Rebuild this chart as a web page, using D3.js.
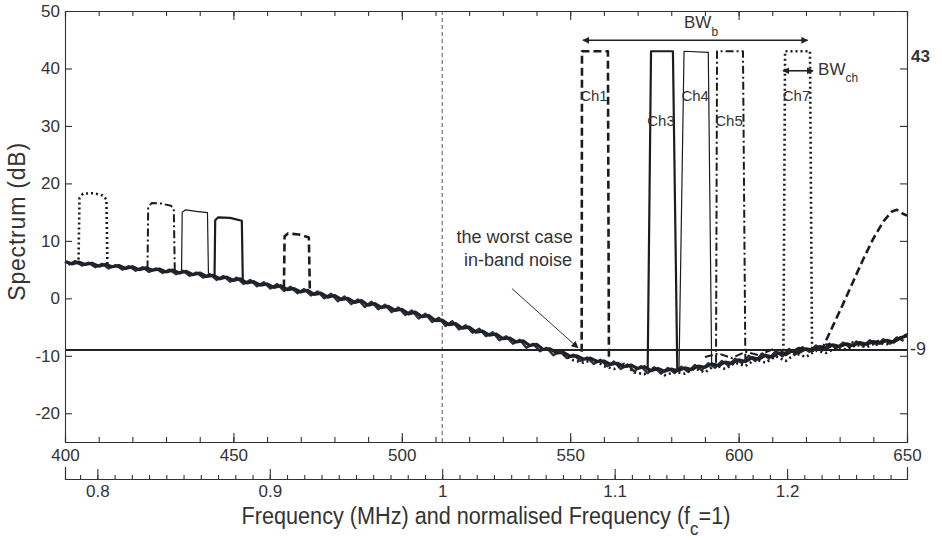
<!DOCTYPE html>
<html>
<head>
<meta charset="utf-8">
<script src="https://cdn.jsdelivr.net/npm/d3@7"></script>
<style>
  body { margin: 0; background: #fff; }
  svg { display: block; font-family: "Liberation Sans", Arial, sans-serif; }
  text { fill: #333; }
</style>
</head>
<body>
<svg id="chart" width="942" height="540"></svg>
<script>
// ---- data ----
const fc = 512;                       // centre frequency, MHz
const mhzTicks = [400, 450, 500, 550, 600, 650];
const normTicks = [0.8, 0.9, 1, 1.1, 1.2];
const dbTicks = [-20, -10, 0, 10, 20, 30, 40, 50];
const markedLevels = [43, -9];

// noise floor, trace 1 sampled at even MHz 400..650
const noiseFreq = d3.range(400, 651, 2);
const noiseDb = [
  6.4, 6.0, 6.3, 5.9, 6.1, 5.6, 5.9, 5.5, 5.7, 5.2,
  5.5, 5.0, 5.3, 4.9, 5.1, 4.6, 4.9, 4.4, 4.7, 4.1,
  4.4, 3.8, 4.0, 3.4, 3.7, 3.1, 3.4, 2.7, 2.9, 2.3,
  2.5, 1.9, 2.2, 1.5, 1.7, 1.1, 1.4, 0.7, 0.9, 0.2,
  0.5, -0.2, 0.0, -0.7, -0.4, -1.2, -0.9, -1.6, -1.4, -2.1,
  -1.9, -2.7, -2.4, -3.2, -3.0, -3.9, -3.8, -4.6, -4.4, -5.2,
  -5.0, -5.9, -5.7, -6.4, -6.2, -7.0, -6.9, -7.6, -7.4, -8.2,
  -8.0, -8.9, -8.8, -9.5, -9.4, -10.1, -10.0, -10.6, -10.4, -11.0,
  -10.9, -11.5, -11.3, -11.9, -11.6, -12.2, -11.9, -12.6, -12.2, -12.7,
  -12.3, -12.6, -12.1, -12.4, -11.8, -12.0, -11.4, -11.7, -11.1, -11.3,
  -10.7, -11.0, -10.3, -10.6, -9.9, -10.2, -9.5, -9.8, -9.1, -9.4,
  -8.8, -9.0, -8.4, -8.7, -8.1, -8.4, -7.9, -8.2, -7.7, -8.0,
  -7.5, -7.8, -7.3, -7.6, -6.9, -6.5
];
// noise floor, trace 2 sampled at odd MHz 401..649
const noiseFreq2 = d3.range(401, 650, 2);
const noiseDb2 = [
  5.8, 6.5, 5.7, 6.2, 5.4, 6.0, 5.2, 5.8, 5.0, 5.6,
  4.8, 5.4, 4.6, 5.2, 4.4, 5.0, 4.2, 4.8, 3.9, 4.5,
  3.6, 4.2, 3.2, 3.9, 2.9, 3.6, 2.5, 3.2, 2.1, 2.8,
  1.7, 2.5, 1.3, 2.0, 0.9, 1.6, 0.5, 1.2, 0.0, 0.8,
  -0.5, 0.3, -1.0, -0.2, -1.5, -0.6, -1.9, -1.1, -2.4, -1.6,
  -2.9, -2.1, -3.5, -2.7, -4.1, -3.4, -4.8, -4.0, -5.4, -4.7,
  -6.0, -5.3, -6.6, -5.9, -7.3, -6.6, -7.9, -7.2, -8.6, -7.9,
  -9.2, -8.6, -9.9, -9.2, -10.4, -9.8, -10.9, -10.3, -11.4, -10.7,
  -11.8, -11.0, -12.3, -11.5, -12.7, -11.8, -13.0, -12.0, -13.1, -12.1,
  -13.0, -11.9, -12.8, -11.6, -12.5, -11.3, -12.1, -10.9, -11.7, -10.5,
  -11.3, -10.0, -10.9, -9.6, -10.5, -9.2, -10.1, -8.8, -9.7, -8.5,
  -9.3, -8.2, -9.0, -7.9, -8.7, -7.7, -8.5, -7.5, -8.3, -7.3,
  -8.1, -7.1, -7.9, -6.8, -7.4
];

// lower scattered trace (dotted) over the band
const scatterLow = [
  [548, -9.8], [551, -10.8], [554, -11.2], [557, -10.6], [560, -11.8], [563, -12.3],
  [566, -11.4], [569, -12.9], [572, -13.2], [575, -12.0], [578, -13.4], [581, -12.8],
  [584, -13.1], [587, -12.2], [590, -12.9], [593, -11.6], [596, -12.3], [599, -11.2],
  [602, -11.8], [605, -10.6], [608, -11.2], [611, -10.1], [614, -10.9], [617, -9.6],
  [620, -10.2], [623, -9.1], [626, -9.5], [629, -8.6], [632, -8.9], [635, -8.1],
  [638, -8.5], [641, -7.7], [644, -8.0], [647, -7.0], [650, -6.4]
];
// upper scattered trace (dash-dot)
const scatterHigh = [
  [590, -10.2], [594, -9.6], [598, -10.4], [602, -9.3], [606, -9.9], [610, -8.9],
  [614, -9.5], [618, -8.6], [622, -9.2], [626, -8.0], [630, -8.4], [634, -7.6],
  [638, -8.1], [642, -7.3], [646, -7.7], [650, -6.2]
];

// in-band channels at 43 dB
const channelNames = ["Ch1", "Ch3", "Ch4", "Ch5", "Ch7"];
const channelTraces = [
  [[553.4, -9.3], [553.5, 43.0], [561.2, 43.0], [561.5, -10.8]],
  [[573.0, -12.5], [574.0, 43.0], [580.5, 43.0], [581.8, -12.6]],
  [[582.3, -12.5], [583.8, 43.0], [591.0, 42.8], [592.0, -11.5]],
  [[593.3, -11.2], [593.6, 43.0], [601.3, 43.0], [602.0, -10.5]],
  [[613.3, -10.0], [613.8, 43.0], [621.2, 43.0], [621.8, -9.0]]
];
const channelLabelDb = [35, 30.7, 35, 30.7, 35];

// intermodulation products below the band
const imTraces = [
  [[404.0, 5.9], [404.3, 17.4], [405.3, 18.2], [408.5, 18.3], [411.2, 17.9], [412.3, 17.2], [412.6, 5.6]],
  [[424.5, 5.2], [424.7, 15.9], [425.8, 16.6], [428.5, 16.5], [431.5, 16.1], [432.3, 15.6], [432.6, 4.7]],
  [[434.6, 4.6], [434.8, 15.0], [435.8, 15.4], [439.5, 15.1], [442.3, 14.9], [442.6, 3.9]],
  [[444.4, 3.8], [444.6, 13.6], [445.5, 14.1], [449.0, 14.0], [452.5, 13.5], [452.8, 2.8]],
  [[465.0, 1.9], [465.2, 10.8], [466.2, 11.3], [469.5, 11.1], [472.4, 10.6], [472.7, 1.3]]
];
// product above the band
const upperProduct = [
  [624.5, -9.2], [626, -7.3], [628, -4.8], [631, -1.0], [634, 2.9], [637, 6.8],
  [640, 10.4], [643, 13.4], [645.5, 15.1], [647, 15.4], [648.5, 14.8], [650, 14.4]
];

// ---- layout ----
const margin = { top: 11, left: 65, right: 35, bottom: 98 };
const width = 942 - margin.left - margin.right,
  height = 540 - margin.top - margin.bottom;

const svg = d3.select("#chart");
const g = svg.append("g").attr("transform", `translate(${margin.left},${margin.top})`);

const x = d3.scaleLinear().domain([400, 650]).range([0, width]);
const xn = d3.scaleLinear().domain([400 / fc, 650 / fc]).range([0, width]);
const y = d3.scaleLinear().domain([-25, 50]).range([height, 0]);

// line styles
const styles = {
  dashed: { w: 2.6, dash: "8,4" },
  thick: { w: 2.2, dash: null },
  thin: { w: 1.2, dash: null },
  dashdot: { w: 2, dash: "8,3,2,3" },
  dotted: { w: 2.6, dash: "2,3" }
};
const channelStyle = ["dashed", "thick", "thin", "dashdot", "dotted"];
const imStyle = ["dotted", "dashdot", "thin", "thick", "dashed"];

const line = d3.line().x(d => x(d[0])).y(d => y(d[1]));

function drawTrace(pts, st) {
  const s = styles[st];
  g.append("path")
    .datum(pts)
    .attr("d", line)
    .attr("fill", "none")
    .attr("stroke", "#1c1c1c")
    .attr("stroke-width", s.w)
    .attr("stroke-dasharray", s.dash)
    .attr("stroke-linejoin", "round");
}

// arrow marker
const defs = svg.append("defs");
defs.append("marker")
  .attr("id", "arr")
  .attr("viewBox", "0 0 10 10")
  .attr("refX", 9).attr("refY", 5)
  .attr("markerWidth", 7).attr("markerHeight", 7)
  .attr("orient", "auto-start-reverse")
  .attr("markerUnits", "userSpaceOnUse")
  .append("path")
  .attr("d", "M0,0L10,5L0,10z")
  .attr("fill", "#222");

// vertical line at fc
g.append("line")
  .attr("x1", x(fc)).attr("x2", x(fc))
  .attr("y1", 0).attr("y2", height)
  .attr("stroke", "#555").attr("stroke-width", 1)
  .attr("stroke-dasharray", "4,3");

// noise floor
const noise = noiseFreq.map((f, i) => [f, noiseDb[i]]);
const noise2 = noiseFreq2.map((f, i) => [f, noiseDb2[i]]);
g.append("path")
  .datum(noise2)
  .attr("d", line)
  .attr("fill", "none")
  .attr("stroke", "#2a3038")
  .attr("stroke-width", 2.4)
  .attr("stroke-linejoin", "round");
g.append("path")
  .datum(noise)
  .attr("d", line)
  .attr("fill", "none")
  .attr("stroke", "#1f2228")
  .attr("stroke-width", 3.2)
  .attr("stroke-linejoin", "round");
drawTrace(scatterLow, "dotted");
drawTrace(scatterHigh, "dashdot");

// channels
imTraces.forEach((t, i) => drawTrace(t, imStyle[i]));
channelTraces.forEach((t, i) => drawTrace(t, channelStyle[i]));
drawTrace(upperProduct, "dashed");

// -9 dB reference
g.append("line")
  .attr("x1", 0).attr("x2", width)
  .attr("y1", y(-9)).attr("y2", y(-9))
  .attr("stroke", "#222").attr("stroke-width", 2);

// ---- axes (Matlab style, inward ticks) ----
function styleAxis(sel) {
  sel.selectAll("path, line").attr("stroke", "#333").attr("stroke-width", 1.1);
  sel.selectAll("text").attr("fill", "#333").style("font-size", "17px")
    .style("font-family", "'Liberation Sans', Arial, sans-serif");
}
const plain = d => String(d);

const minorMhz = x.ticks(25);
g.append("g").attr("transform", `translate(0,${height})`)
  .call(d3.axisBottom(x).tickValues(minorMhz).tickSize(-5).tickFormat(""))
  .call(styleAxis);
g.append("g").attr("transform", `translate(0,${height})`)
  .call(d3.axisBottom(x).tickValues(mhzTicks).tickSize(-9).tickSizeOuter(0).tickPadding(7).tickFormat(plain))
  .call(styleAxis);
g.append("g")
  .call(d3.axisTop(x).tickValues(minorMhz).tickSize(-5).tickFormat(""))
  .call(styleAxis);
g.append("g")
  .call(d3.axisTop(x).tickValues(mhzTicks).tickSize(-9).tickSizeOuter(0).tickFormat(""))
  .call(styleAxis);
g.append("g")
  .call(d3.axisLeft(y).tickValues(dbTicks).tickSize(-7).tickSizeOuter(0).tickPadding(5).tickFormat(plain))
  .call(styleAxis);
g.append("g").attr("transform", `translate(${width},0)`)
  .call(d3.axisRight(y).tickValues(dbTicks).tickSize(-7).tickSizeOuter(0).tickFormat(""))
  .call(styleAxis);

// normalised frequency axis
const normAxisY = height + 37;
g.append("g").attr("transform", `translate(0,${normAxisY})`)
  .call(d3.axisBottom(xn).tickValues(xn.ticks(50)).tickSize(-4).tickSizeOuter(-12).tickFormat(""))
  .call(styleAxis);
g.append("g").attr("transform", `translate(0,${normAxisY})`)
  .call(d3.axisBottom(xn).tickValues(normTicks).tickSize(-10).tickSizeOuter(-12).tickPadding(6).tickFormat(plain))
  .call(styleAxis);

// ---- labels ----
g.append("text")
  .attr("transform", `translate(-40,${y(20) + 38}) rotate(-90)`)
  .attr("text-anchor", "middle")
  .style("font-size", "23px")
  .style("letter-spacing", "0.8px")
  .text("Spectrum (dB)");

const title = g.append("g").attr("transform", `translate(${x(525)},${height + 82})`);
const tt = title.append("text").attr("text-anchor", "middle").style("font-size", "23px");
tt.append("tspan").text("Frequency (MHz) and normalised Frequency (f");
tt.append("tspan").attr("dy", 11).style("font-size", "18px").text("c");
tt.append("tspan").attr("dy", -11).text("=1)");
const tw = tt.node().getBBox().width;
tt.attr("transform", `scale(${489 / tw},1)`);

// right-hand level labels
g.append("text")
  .attr("x", width + 4).attr("y", y(markedLevels[0]) + 6)
  .attr("dominant-baseline", "middle")
  .style("font-size", "17px").style("font-weight", "bold")
  .attr("fill", "#222")
  .text(String(markedLevels[0]));
g.append("text")
  .attr("x", width + 3).attr("y", y(markedLevels[1]))
  .attr("dominant-baseline", "middle")
  .style("font-size", "18px")
  .text(String(markedLevels[1]));

// channel labels
channelTraces.forEach((t, i) => {
  const c = (t[1][0] + t[2][0]) / 2;
  g.append("text")
    .attr("x", x(c) - 1).attr("y", y(channelLabelDb[i]))
    .attr("text-anchor", "middle")
    .attr("dominant-baseline", "middle")
    .style("font-size", "15px")
    .text(channelNames[i]);
});

// BW_b arrow
g.append("line")
  .attr("x1", x(553.8)).attr("x2", x(620.5))
  .attr("y1", y(44.9)).attr("y2", y(44.9))
  .attr("stroke", "#222").attr("stroke-width", 1.6)
  .attr("marker-start", "url(#arr)").attr("marker-end", "url(#arr)");
const bwb = g.append("text").attr("x", x(583.8)).attr("y", y(47)).style("font-size", "17px");
bwb.append("tspan").text("BW");
bwb.append("tspan").attr("dy", 8).style("font-size", "12px").text("b");

// BW_ch arrow
g.append("line")
  .attr("x1", x(613.2)).attr("x2", x(622.1))
  .attr("y1", y(39.6)).attr("y2", y(39.6))
  .attr("stroke", "#222").attr("stroke-width", 1.6)
  .attr("marker-start", "url(#arr)").attr("marker-end", "url(#arr)");
const bwc = g.append("text").attr("x", x(623.6)).attr("y", y(38.9)).style("font-size", "17px");
bwc.append("tspan").text("BW");
bwc.append("tspan").attr("dy", 7).style("font-size", "12px").text("ch");

// worst case annotation
const wc = g.append("text").attr("text-anchor", "middle").style("font-size", "18px");
wc.append("tspan").attr("x", x(533.5)).attr("y", y(9.6)).text("the worst case");
wc.append("tspan").attr("x", x(534.5)).attr("y", y(9.6) + 23).text("in-band noise");
g.append("line")
  .attr("x1", x(532.7)).attr("y1", y(1.7))
  .attr("x2", x(552.3)).attr("y2", y(-8.6))
  .attr("stroke", "#333").attr("stroke-width", 1)
  .attr("marker-end", "url(#arr)");
</script>
</body>
</html>
